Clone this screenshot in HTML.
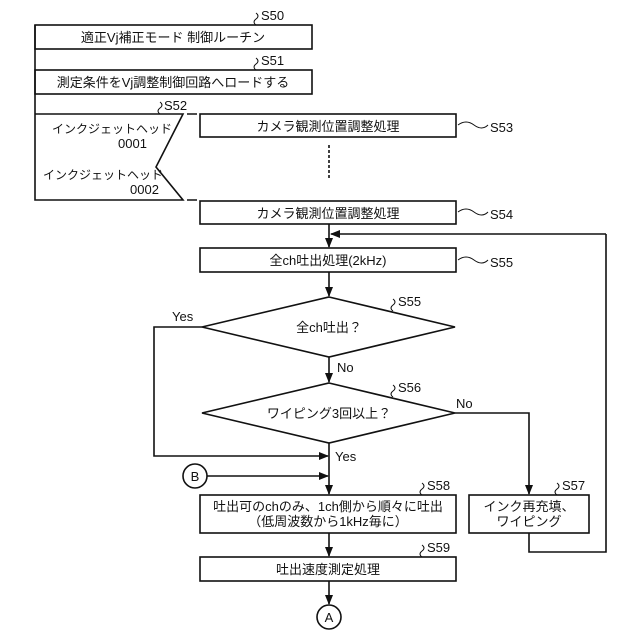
<!DOCTYPE html>
<html><head><meta charset="utf-8"><style>
body{margin:0;background:#fff}
svg{display:block}
text{font-family:"Liberation Sans","Noto Sans CJK JP",sans-serif;font-size:13px;fill:#111}
</style></head><body>
<svg width="640" height="640" viewBox="0 0 640 640" xmlns="http://www.w3.org/2000/svg">
<defs><marker id="a" markerWidth="10" markerHeight="10" refX="9" refY="5" orient="auto" markerUnits="userSpaceOnUse"><path d="M0,1 L10,5 L0,9 z" fill="#111"/></marker></defs>
<g fill="none" stroke="#111" stroke-width="1.6">
<rect x="35" y="25" width="277" height="24"/>
<rect x="35" y="70" width="277" height="24"/>
<path d="M35,25 V200 H183 L156,167 L183,114 H35"/>
<path d="M187,114 H197 M187,200 H197"/>
<rect x="200" y="114" width="256" height="23"/>
<path d="M329,145 V178" stroke-dasharray="3,2"/>
<rect x="200" y="201" width="256" height="23"/>
<path d="M329,224 V247" marker-end="url(#a)"/>
<path d="M606,234 H331" marker-end="url(#a)"/>
<path d="M606,234 V552 H529 V533"/>
<rect x="200" y="248" width="256" height="24"/>
<path d="M329,272 V296" marker-end="url(#a)"/>
<path d="M329,297 L455,327 L329,357 L202,327 Z"/>
<path d="M329,357 V382" marker-end="url(#a)"/>
<path d="M329,383 L455,413 L329,443 L202,413 Z"/>
<path d="M202,327 H154 V456 H328" marker-end="url(#a)"/>
<path d="M455,413 H529 V494" marker-end="url(#a)"/>
<path d="M329,443 V494" marker-end="url(#a)"/>
<circle cx="195" cy="476" r="12"/>
<path d="M207,476 H328" marker-end="url(#a)"/>
<rect x="200" y="495" width="256" height="38"/>
<rect x="469" y="495" width="120" height="38"/>
<path d="M329,533 V556" marker-end="url(#a)"/>
<rect x="200" y="557" width="256" height="24"/>
<path d="M329,581 V604" marker-end="url(#a)"/>
<circle cx="329" cy="617" r="12"/>
<g stroke-width="1">
<path d="M256,25 q-4,-3 0,-6 q4,-3 0,-6"/>
<path d="M256,70 q-4,-3 0,-6 q4,-3 0,-6"/>
<path d="M160,114 q-4,-3 0,-6 q4,-3 0,-6"/>
<path d="M458,125 q8,-6 16,0 q8,6 14,0"/>
<path d="M458,212 q8,-6 16,0 q8,6 14,0"/>
<path d="M458,260 q8,-6 16,0 q8,6 14,0"/>
<path d="M393,311 q-4,-3 0,-6 q4,-3 0,-6"/>
<path d="M393,397 q-4,-3 0,-6 q4,-3 0,-6"/>
<path d="M422,495 q-4,-3 0,-6 q4,-3 0,-6"/>
<path d="M557,495 q-4,-3 0,-6 q4,-3 0,-6"/>
<path d="M422,557 q-4,-3 0,-6 q4,-3 0,-6"/>
</g>
</g>
<text x="261" y="20">S50</text>
<text x="261" y="65">S51</text>
<text x="164" y="110">S52</text>
<text x="490" y="132">S53</text>
<text x="490" y="219">S54</text>
<text x="490" y="267">S55</text>
<text x="398" y="306">S55</text>
<text x="398" y="392">S56</text>
<text x="427" y="490">S58</text>
<text x="562" y="490">S57</text>
<text x="427" y="552">S59</text>
<text x="173" y="42" text-anchor="middle">適正Vj補正モード 制御ルーチン</text>
<text x="173" y="87" text-anchor="middle">測定条件をVj調整制御回路へロードする</text>
<text x="52" y="133" style="font-size:12px">インクジェットヘッド</text>
<text x="118" y="148">0001</text>
<text x="43" y="179" style="font-size:12px">インクジェットヘッド</text>
<text x="130" y="194">0002</text>
<text x="328" y="131" text-anchor="middle">カメラ観測位置調整処理</text>
<text x="328" y="218" text-anchor="middle">カメラ観測位置調整処理</text>
<text x="328" y="265" text-anchor="middle">全ch吐出処理(2kHz)</text>
<text x="329" y="332" text-anchor="middle">全ch吐出？</text>
<text x="329" y="418" text-anchor="middle">ワイピング3回以上？</text>
<text x="172" y="321">Yes</text>
<text x="337" y="372">No</text>
<text x="456" y="408">No</text>
<text x="335" y="461">Yes</text>
<text x="195" y="481" text-anchor="middle">B</text>
<text x="329" y="622" text-anchor="middle">A</text>
<text x="328" y="511" text-anchor="middle">吐出可のchのみ、1ch側から順々に吐出</text>
<text x="328" y="526" text-anchor="middle">（低周波数から1kHz毎に）</text>
<text x="529" y="511" text-anchor="middle">インク再充填、</text>
<text x="529" y="526" text-anchor="middle">ワイピング</text>
<text x="328" y="574" text-anchor="middle">吐出速度測定処理</text>
</svg>
</body></html>
